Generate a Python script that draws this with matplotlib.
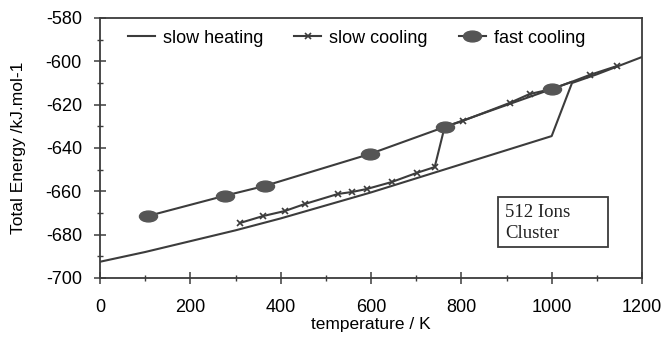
import matplotlib
matplotlib.use("Agg")
import matplotlib.pyplot as plt
from matplotlib.path import Path
from matplotlib.patches import Rectangle
from matplotlib.ticker import MultipleLocator
import numpy as np

# Data
heat_T = [0, 100, 200, 300, 400, 500, 600, 700, 800, 900, 1000, 1045, 1100, 1200]
heat_E = [-692.5, -688, -683, -678, -672.5, -666.5, -660.5, -654, -647.5, -641, -634.5, -610, -606, -598]

slow_cool_T = [1144, 1084, 1044, 1000, 951, 907, 803, 763, 741, 701, 646, 591, 558, 527, 454, 409, 361, 310]
slow_cool_E = [-602.2, -606.3, -609.5, -612.8, -615.1, -619.2, -627.5, -630.3, -648.8, -651.5, -655.7,
               -658.9, -660.3, -661.2, -665.8, -669.1, -671.4, -674.6]
slow_cool_marked = [True, True, False, False, True, True, True, False, True, True, True,
                    True, True, True, True, True, True, True]

fast_cool_T = [1044, 1000, 763, 597, 365, 277, 106]
fast_cool_E = [-609.5, -612.8, -630.3, -642.8, -657.5, -662, -671.4]
fast_cool_marked = [False, True, True, True, True, True, True]

xticks = [0, 200, 400, 600, 800, 1000, 1200]
yticks = [-700, -680, -660, -640, -620, -600, -580]
box_lines = ['512 Ions', 'Cluster']

plt.rcParams['font.family'] = ['Liberation Sans', 'DejaVu Sans']
plt.rcParams['axes.unicode_minus'] = False
col = '#3c3c3c'

fig = plt.figure(figsize=(6.62, 3.37), dpi=100)
ax = fig.add_axes([100/662, 1 - 278/337, 542/662, 260/337])

ellipse = Path.unit_circle()
ellipse = Path(ellipse.vertices * np.array([1.0, 0.6]), ellipse.codes)

ax.plot(heat_T, heat_E, color=col, lw=1.5, label='slow heating')
sc_mark = [i for i, m in enumerate(slow_cool_marked) if m]
ax.plot(slow_cool_T, slow_cool_E, color=col, lw=1.5, marker='x', markevery=sc_mark,
        markersize=5, markeredgewidth=1.2, label='slow cooling')
fc_mark = [i for i, m in enumerate(fast_cool_marked) if m]
ax.plot(fast_cool_T, fast_cool_E, color=col, lw=1.5, marker=ellipse, markevery=fc_mark,
        markersize=13, markerfacecolor='#555555', markeredgecolor='#555555', label='fast cooling')

ax.set_xlim(0, 1200)
ax.set_ylim(-700, -580)
ax.set_xticks(xticks)
ax.set_yticks(yticks)
ax.xaxis.set_minor_locator(MultipleLocator(100))
ax.yaxis.set_minor_locator(MultipleLocator(10))
ax.tick_params(which='major', direction='inout', length=8, width=1.1, color=col, labelsize=13,
               top=False, right=False)
ax.tick_params(axis='x', which='major', pad=11)
ax.tick_params(axis='y', which='major', pad=9)
ax.tick_params(which='minor', direction='inout', length=5, width=1.0, color=col,
               top=False, right=False)
for s in ax.spines.values():
    s.set_color(col)
    s.set_linewidth(1.3)

ax.set_xlabel('temperature / K', fontsize=12.5, labelpad=1)
ax.set_ylabel('Total Energy /kJ.mol-1', fontsize=12.5, labelpad=14)

ax.legend(loc='upper left', bbox_to_anchor=(0.03, 1.0), ncol=3, frameon=False, fontsize=13,
          handlelength=1.5, handletextpad=0.45, columnspacing=1.7, borderaxespad=0.25)

# annotation box
ax.add_patch(Rectangle((0.734, 0.119), 0.203, 0.193, transform=ax.transAxes,
                       facecolor='white', edgecolor=col, linewidth=1.3, zorder=5))
for line, yb in zip(box_lines, [0.236, 0.155]):
    ax.text(0.747, yb, line, transform=ax.transAxes, fontsize=13.5,
            family='Liberation Serif', va='baseline', ha='left', zorder=6, color='#222222')

fig.savefig('out.png', dpi=100)
